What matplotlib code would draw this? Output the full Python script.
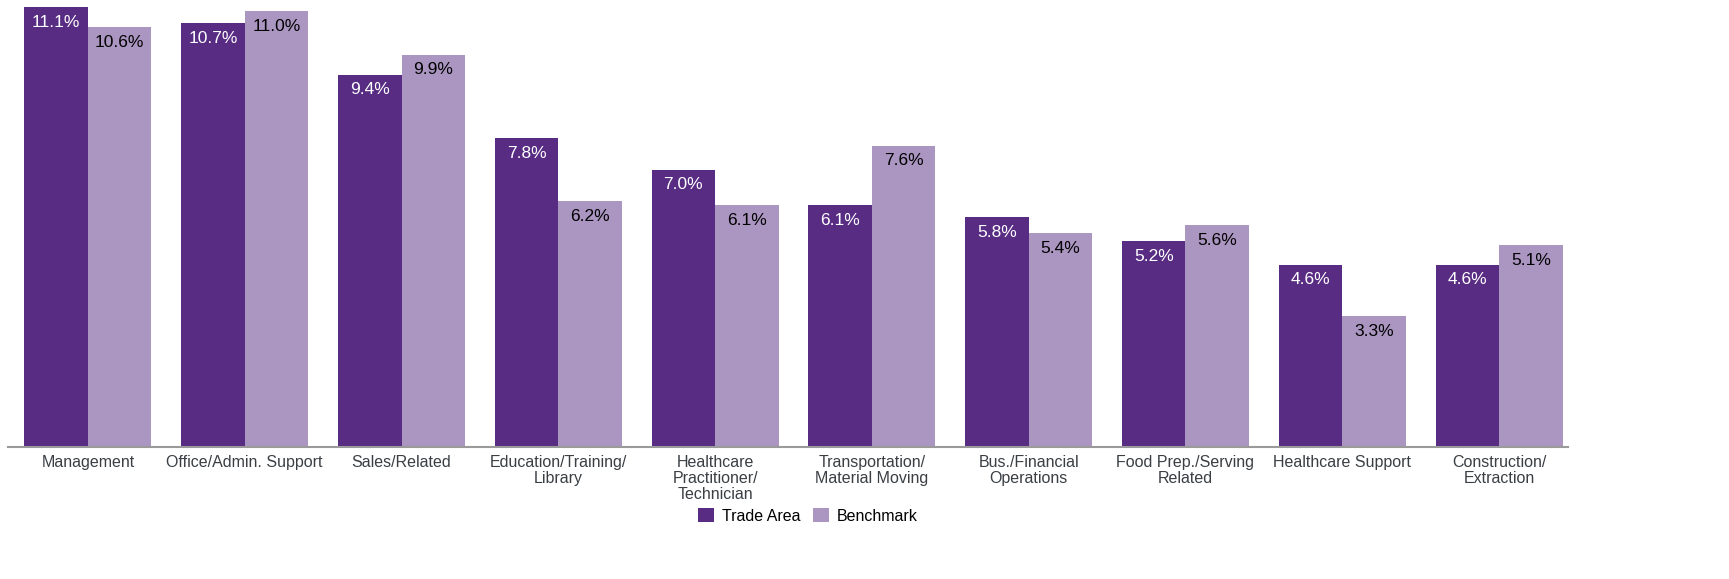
import matplotlib.pyplot as plt
import numpy as np

plt.rcParams['font.family'] = ['Liberation Sans', 'DejaVu Sans']

categories = ["Management", "Office/Admin. Support", "Sales/Related",
              "Education/Training/\nLibrary", "Healthcare\nPractitioner/\nTechnician",
              "Transportation/\nMaterial Moving", "Bus./Financial\nOperations",
              "Food Prep./Serving\nRelated", "Healthcare Support", "Construction/\nExtraction"]
trade_area = [11.1, 10.7, 9.4, 7.8, 7.0, 6.1, 5.8, 5.2, 4.6, 4.6]
benchmark = [10.6, 11.0, 9.9, 6.2, 6.1, 7.6, 5.4, 5.6, 3.3, 5.1]

dark = '#582c83'
light = '#ab95c1'

fig = plt.figure(figsize=(17.29, 5.79), dpi=100)
ax = fig.add_axes([8 / 1729, 1 - 447 / 579, 1560 / 1729, 447 / 579])

x = np.arange(len(categories))
w = 0.405
bars1 = ax.bar(x - w / 2, trade_area, w, color=dark, label='Trade Area')
bars2 = ax.bar(x + w / 2, benchmark, w, color=light, label='Benchmark')

for b, v in zip(bars1, trade_area):
    ax.annotate('{:.1f}%'.format(v), (b.get_x() + b.get_width() / 2, v),
                xytext=(0, -5.5), textcoords='offset points', ha='center', va='top',
                color='white', fontsize=12.5)
for b, v in zip(bars2, benchmark):
    ax.annotate('{:.1f}%'.format(v), (b.get_x() + b.get_width() / 2, v),
                xytext=(0, -5.5), textcoords='offset points', ha='center', va='top',
                color='black', fontsize=12.5)

ax.set_xlim(-0.51, 9.44)
ax.set_ylim(0, 11.28)
ax.set_xticks(x)
ax.set_xticklabels(categories, fontsize=11.5, color='#3a3f44', linespacing=1.08)
ax.tick_params(axis='x', length=0, pad=6)
ax.set_yticks([])
for s in ['top', 'right', 'left']:
    ax.spines[s].set_visible(False)
ax.spines['bottom'].set_color('#9a9a9a')
ax.spines['bottom'].set_linewidth(1.5)

fig.legend(loc='center', bbox_to_anchor=(808 / 1729, 1 - 516 / 579), ncol=2,
           frameon=False, fontsize=11.5, handlelength=1.0, handleheight=1.0,
           handletextpad=0.5, columnspacing=0.8)

plt.savefig('out.png')
